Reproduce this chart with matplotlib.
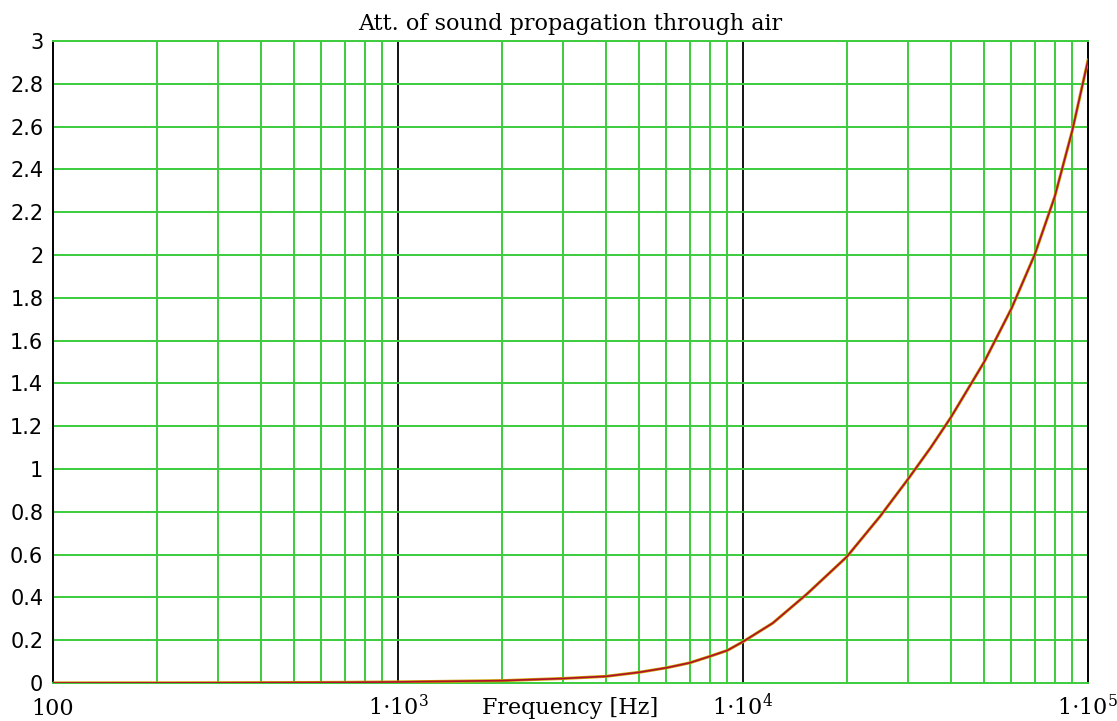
import matplotlib
matplotlib.use("Agg")
import matplotlib.pyplot as plt

# values
freq = [100, 200, 300, 500, 700, 1000, 2000, 3000, 4000, 5000, 6000, 7000,
        8000, 9000, 10000, 12200, 15300, 20000, 25000, 30000, 35000, 40000,
        50000, 60000, 70000, 80000, 90000, 100000]
att = [0.0002, 0.0006, 0.001, 0.002, 0.003, 0.005, 0.011, 0.021, 0.031, 0.05,
       0.071, 0.094, 0.124, 0.152, 0.193, 0.28, 0.415, 0.59, 0.78, 0.95,
       1.10, 1.24, 1.50, 1.75, 2.0, 2.27, 2.58, 2.91]

xticks = [100, 1000, 10000, 100000]
xticklabels = ['100', r'$1{\cdot}10^{3}$', r'$1{\cdot}10^{4}$', r'$1{\cdot}10^{5}$']
yticks = [i * 0.2 for i in range(16)]
yticklabels = ['0', '0.2', '0.4', '0.6', '0.8', '1', '1.2', '1.4', '1.6', '1.8',
               '2', '2.2', '2.4', '2.6', '2.8', '3']

plt.rcParams['font.family'] = ['DejaVu Serif']
plt.rcParams['mathtext.fontset'] = 'dejavuserif'

fig = plt.figure(figsize=(11.17, 7.21), dpi=100)
ax = fig.add_axes([53 / 1117, 1 - 683 / 721, (1088 - 53) / 1117, (683 - 41) / 721])

green = '#3ccc3c'

ax.set_xscale('log')
ax.set_xlim(100, 100000)
ax.set_ylim(0, 3)

# grid: green minor decades, black decade lines
for dec in [100, 1000, 10000]:
    for m in range(2, 10):
        ax.axvline(dec * m, color=green, lw=1.4, zorder=1)
for v in [1000, 10000]:
    ax.axvline(v, color='black', lw=1.3, zorder=1)
for y in yticks[1:]:
    ax.axhline(y, color=green, lw=1.4, zorder=1)

ax.plot(freq, att, color='#c8a000', lw=2.2, zorder=3)
ax.plot(freq, att, color='#b0102a', lw=1.2, zorder=4)

ax.spines['left'].set_color('black')
ax.spines['right'].set_color('black')
ax.spines['top'].set_color(green)
ax.spines['bottom'].set_color(green)
for s in ax.spines.values():
    s.set_linewidth(1.4)

ax.set_xticks(xticks)
ax.set_xticklabels(xticklabels, fontsize=16)
ax.xaxis.set_minor_locator(matplotlib.ticker.NullLocator())
ax.set_yticks(yticks)
ax.set_yticklabels(yticklabels, fontsize=15, family='DejaVu Sans')
ax.tick_params(axis='both', length=0)
ax.tick_params(axis='y', pad=7)
ax.tick_params(axis='x', pad=23)
for lab in ax.get_xticklabels():
    lab.set_va('baseline')

ax.set_xlabel('Frequency [Hz]', fontsize=16)
ax.xaxis.set_label_coords(0.5, -0.048)
ax.xaxis.label.set_va('baseline')

ax.set_title('Att. of sound propagation through air', fontsize=16, pad=8)

fig.savefig('out.png', dpi=100)
